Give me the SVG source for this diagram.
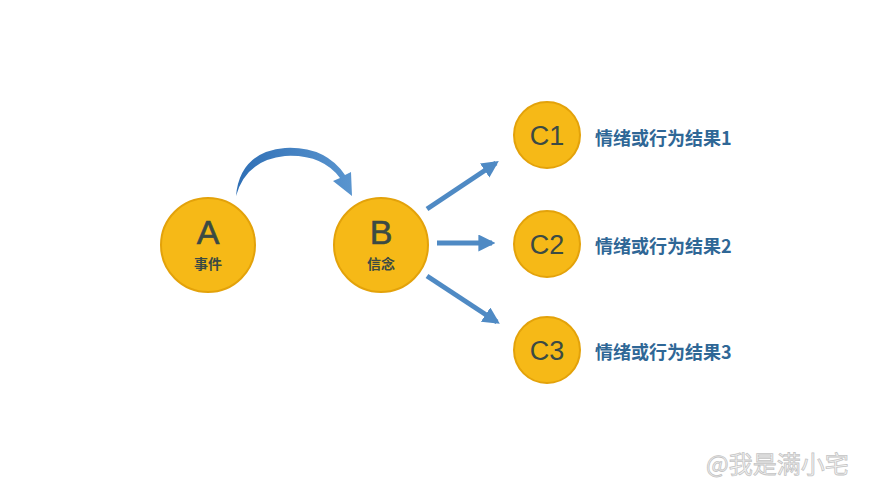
<svg xmlns="http://www.w3.org/2000/svg" width="888" height="500" viewBox="0 0 888 500">
<defs>
<style>
.node circle{fill:#f6b917;stroke:#e3a20a;stroke-width:2}
.big{font-family:"Liberation Sans",Arial,sans-serif;font-size:34px;fill:#3b4a44;text-anchor:middle;stroke:#3b4a44;stroke-width:0.6}
.sub{font-family:"Noto Sans CJK SC","Noto Sans",sans-serif;font-size:14px;font-weight:bold;fill:#3b4a44;text-anchor:middle}
.cl{font-family:"Liberation Sans",Arial,sans-serif;font-size:27px;fill:#3b4a44;text-anchor:middle}
.lab{font-family:"Noto Sans CJK SC","Noto Sans",sans-serif;font-size:18px;font-weight:bold;fill:#2f6796}
.conn line{stroke:#4f8ac4;stroke-width:5}
</style>
<marker id="ah" viewBox="0 0 10 10" refX="8" refY="5" markerWidth="3.4" markerHeight="3.4" orient="auto" markerUnits="strokeWidth">
<path d="M0,0 L10,5 L0,10 z" fill="#4f8ac4"/>
</marker>
<linearGradient id="arc" x1="0" y1="0" x2="1" y2="0">
<stop offset="0" stop-color="#2f6fb5"/>
<stop offset="1" stop-color="#5a95cf"/>
</linearGradient>
</defs>
<rect width="888" height="500" fill="#ffffff"/>
<g id="connectors" class="conn">
<path d="M236,196 Q246,160 285,156 Q322,154 340,178 L333,181 L352,196 L351,172 L345,175 Q325,146 285,148 Q240,152 236,196 Z" fill="url(#arc)"/>
<line x1="427" y1="209" x2="496" y2="163" marker-end="url(#ah)"/>
<line x1="437" y1="243" x2="492" y2="243" marker-end="url(#ah)"/>
<line x1="427" y1="276" x2="497" y2="322" marker-end="url(#ah)"/>
</g>
<g id="nodeA" class="node">
<circle cx="208" cy="245" r="47"/>
<text class="big" x="208" y="244">A</text>
<text class="sub" x="208" y="269">事件</text>
</g>
<g id="nodeB" class="node">
<circle cx="381" cy="245" r="47"/>
<text class="big" x="381" y="244">B</text>
<text class="sub" x="381" y="269">信念</text>
</g>
<g id="nodeC1" class="node">
<circle cx="547" cy="135" r="33"/>
<text class="cl" x="547" y="145">C1</text>
</g>
<g id="nodeC2" class="node">
<circle cx="547" cy="244" r="33"/>
<text class="cl" x="547" y="254">C2</text>
</g>
<g id="nodeC3" class="node">
<circle cx="547" cy="350" r="33"/>
<text class="cl" x="547" y="360">C3</text>
</g>
<text class="lab" x="595" y="145">情绪或行为结果1</text>
<text class="lab" x="595" y="253">情绪或行为结果2</text>
<text class="lab" x="595" y="359">情绪或行为结果3</text>
<text x="706" y="473" font-family="Noto Sans CJK SC,sans-serif" font-size="24" fill="#f4f4f4" stroke="#c4c4c4" stroke-width="0.8">@我是满小宅</text>
</svg>
